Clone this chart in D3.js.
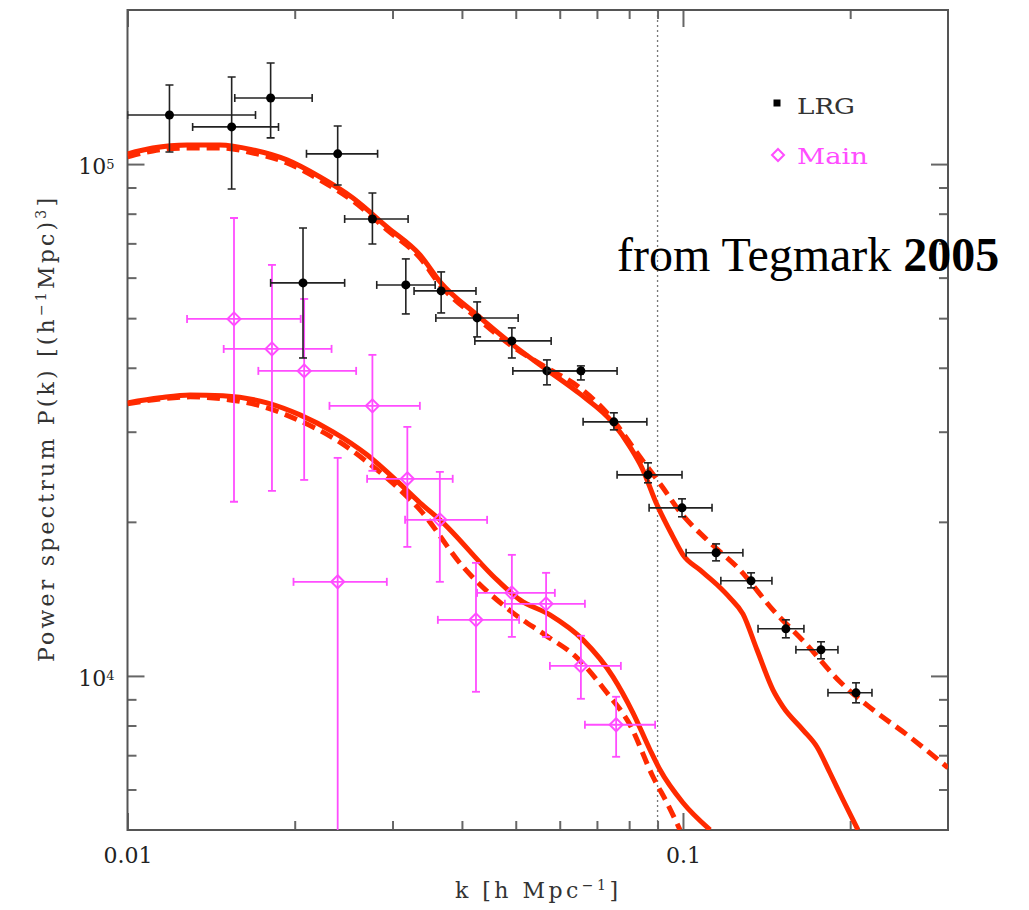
<!DOCTYPE html>
<html>
<head>
<meta charset="utf-8">
<script src="https://cdn.jsdelivr.net/npm/d3@7"></script>
<style>
  body { margin: 0; background: #fff; }
  svg { display: block; }
</style>
</head>
<body>
<svg id="chart" width="1029" height="910"></svg>
<script>
// ---- LRG band powers: k [h/Mpc], P(k) and error-bar extents ----
const lrgK   = [0.0119, 0.0154, 0.0181, 0.0239, 0.0276, 0.0207, 0.0317, 0.0367, 0.0426, 0.0492, 0.0569, 0.0655, 0.0751, 0.0865, 0.0996, 0.1147, 0.1326, 0.1532, 0.1772, 0.2049];
const lrgP   = [124700, 118200, 134600, 104700, 78100, 58600, 58060, 56520, 50050, 45140, 39440, 39440, 31360, 24710, 21300, 17400, 15340, 12360, 11250, 9268];
const lrgKLo = [0.0100, 0.0131, 0.0156, 0.0210, 0.0246, 0.0181, 0.0281, 0.0328, 0.0359, 0.0422, 0.0494, 0.0569, 0.0661, 0.0761, 0.0869, 0.1013, 0.1170, 0.1365, 0.1597, 0.1824];
const lrgKHi = [0.0170, 0.0187, 0.0215, 0.0282, 0.0320, 0.0246, 0.0358, 0.0424, 0.0505, 0.0579, 0.0661, 0.0761, 0.0861, 0.0996, 0.1128, 0.1282, 0.1446, 0.1651, 0.1901, 0.2189];
const lrgPHi = [142700, 148000, 157600, 118700, 87800, 75000, 65270, 61560, 53790, 47860, 41440, 40340, 32660, 26080, 22180, 18110, 15900, 12870, 11660, 9694];
const lrgPLo = [105600, 89400, 112500, 91000, 69800, 41800, 50960, 51190, 45960, 41800, 37040, 37870, 30250, 23840, 20460, 16780, 14860, 11870, 10800, 8860];

// ---- Main-sample band powers ----
const mainK   = [0.01555, 0.0182, 0.0208, 0.0276, 0.0239, 0.0319, 0.0365, 0.0492, 0.0567, 0.0424, 0.0655, 0.0758];
const mainP   = [49830, 43540, 39440, 33700, 15270, 24270, 20180, 14530, 13830, 12870, 10460, 8027];
const mainKLo = [0.0128, 0.0149, 0.0172, 0.0231, 0.0199, 0.0270, 0.0316, 0.0426, 0.0478, 0.0362, 0.0576, 0.0666];
const mainKHi = [0.0205, 0.0233, 0.0258, 0.0336, 0.0293, 0.0385, 0.0444, 0.0588, 0.0666, 0.0507, 0.0773, 0.0891];
const mainPHi = [78460, 63530, 54510, 42390, 26670, 30660, 25040, 17240, 15900, 16630, 11980, 9105];
const mainPLo = [21890, 22990, 24150, 25160, 1000, 17870, 15270, 11920, 11920, 9311, 9022, 6950];

// ---- Model curves ----
const lrgSolidK = [0.0100, 0.0111, 0.0128, 0.01467, 0.01682, 0.01937, 0.02221, 0.02546, 0.02932, 0.03362, 0.03667, 0.04257, 0.04943, 0.05691, 0.06525, 0.07482, 0.08028, 0.08437, 0.0898, 0.09555, 0.1000, 0.1073, 0.1152, 0.1215, 0.1282, 0.1359, 0.1452, 0.1514, 0.1644, 0.1742, 0.1839, 0.1941, 0.2065];
const lrgSolidP = [104700, 107500, 109000, 109000, 106600, 101900, 94360, 85860, 75390, 66450, 58600, 50730, 44340, 39620, 35560, 31220, 28030, 25500, 21590, 18860, 17240, 16110, 15070, 14210, 13220, 11250, 9395, 8703, 7848, 7271, 6469, 5728, 5004];
const lrgDashK  = [0.0100, 0.0111, 0.0128, 0.01467, 0.01682, 0.01937, 0.02221, 0.02546, 0.02932, 0.03362, 0.03667, 0.04257, 0.04943, 0.05691, 0.06525, 0.07482, 0.08264, 0.09204, 0.09877, 0.1105, 0.1266, 0.1452, 0.1672, 0.1917, 0.2198, 0.2531, 0.300];
const lrgDashP  = [103300, 106100, 107500, 107500, 105100, 100500, 93110, 84720, 74380, 65560, 57810, 50050, 43950, 39980, 36540, 31640, 27280, 23310, 20920, 18440, 16110, 13460, 11500, 9739, 8586, 7674, 6615];
const mainSolidK = [0.0100, 0.01144, 0.01296, 0.01485, 0.01783, 0.02044, 0.02344, 0.02699, 0.03094, 0.03362, 0.03652, 0.04627, 0.05088, 0.05762, 0.06607, 0.07482, 0.08128, 0.08721, 0.09091, 0.1000, 0.1119];
const mainSolidP = [34160, 34940, 35400, 35250, 34160, 32360, 29980, 27040, 23730, 21790, 20180, 15400, 14080, 13160, 11760, 9961, 8472, 7175, 6555, 5652, 5004];
const mainDashK  = [0.0100, 0.01144, 0.01296, 0.01485, 0.01783, 0.02044, 0.02344, 0.02699, 0.03094, 0.03362, 0.04018, 0.04943, 0.05644, 0.06445, 0.07298, 0.08028, 0.08831, 0.09397, 0.09877];
const mainDashP  = [34000, 34770, 35090, 34770, 33400, 31500, 29180, 26200, 23100, 21110, 16340, 13280, 12030, 10850, 9268, 8027, 6353, 5602, 5004];

// ---- Axis ticks ----
const xMajorTicks = [0.01, 0.1];
const xMinorTicks = [0.02, 0.03, 0.04, 0.05, 0.06, 0.07, 0.08, 0.09, 0.2];
const yMajorTicks = [1e4, 1e5];
const yMinorTicks = [6000, 7000, 8000, 9000, 2e4, 3e4, 4e4, 5e4, 6e4, 7e4, 8e4, 9e4];
const kCut = 0.09;

const legendNames = ["LRG", "Main"];

// ---- Layout ----
const L = 127.5, R = 948, T = 10, B = 830;
const RED = "#ff2a00", MAG = "#ff4dff", FONT = "DejaVu Serif, serif";

const x = d3.scaleLog().domain([0.01, 0.3]).range([L, R]);
const y = d3.scaleLog().domain([5000, 2e5]).range([B, T]);

const svg = d3.select("#chart");
svg.append("defs").append("clipPath").attr("id", "plotArea")
  .append("rect").attr("x", L).attr("y", T).attr("width", R - L).attr("height", B - T);

// vertical marker of the fitting cutoff
svg.append("line")
  .attr("x1", x(kCut)).attr("x2", x(kCut)).attr("y1", T).attr("y2", B)
  .attr("stroke", "#777").attr("stroke-width", 1.3).attr("stroke-dasharray", "2,3");

// ---- Axes (ticks point inward) ----
function styleAxis(g) {
  g.select(".domain").remove();
  g.selectAll(".tick line").attr("stroke", "#666").attr("stroke-width", 2);
  g.selectAll(".tick text").attr("font-family", FONT).attr("font-size", 22).attr("fill", "#222");
}
const MAJ = 17, MIN = 9;
svg.append("g").attr("transform", `translate(0,${B})`)
  .call(d3.axisBottom(x).tickValues(xMajorTicks).tickSize(-MAJ).tickPadding(17).tickFormat(d3.format("~g")))
  .call(styleAxis);
svg.append("g").attr("transform", `translate(0,${B})`)
  .call(d3.axisBottom(x).tickValues(xMinorTicks).tickSize(-MIN).tickFormat(""))
  .call(styleAxis);
svg.append("g").attr("transform", `translate(0,${T})`)
  .call(d3.axisTop(x).tickValues(xMajorTicks).tickSize(-MAJ).tickFormat(""))
  .call(styleAxis);
svg.append("g").attr("transform", `translate(0,${T})`)
  .call(d3.axisTop(x).tickValues(xMinorTicks).tickSize(-MIN).tickFormat(""))
  .call(styleAxis);

const leftMajor = svg.append("g").attr("transform", `translate(${L},0)`)
  .call(d3.axisLeft(y).tickValues(yMajorTicks).tickSize(-MAJ).tickPadding(13))
  .call(styleAxis);
leftMajor.selectAll(".tick text").attr("dy", "0.45em").text(null).each(function (d) {
  const t = d3.select(this);
  t.append("tspan").text("10");
  t.append("tspan").attr("dy", "-0.45em").attr("font-size", 13).text(Math.round(Math.log10(d)));
});
svg.append("g").attr("transform", `translate(${L},0)`)
  .call(d3.axisLeft(y).tickValues(yMinorTicks).tickSize(-MIN).tickFormat(""))
  .call(styleAxis);
svg.append("g").attr("transform", `translate(${R},0)`)
  .call(d3.axisRight(y).tickValues(yMajorTicks).tickSize(-MAJ).tickFormat(""))
  .call(styleAxis);
svg.append("g").attr("transform", `translate(${R},0)`)
  .call(d3.axisRight(y).tickValues(yMinorTicks).tickSize(-MIN).tickFormat(""))
  .call(styleAxis);

// frame
svg.append("rect").attr("x", L).attr("y", T).attr("width", R - L).attr("height", B - T)
  .attr("fill", "none").attr("stroke", "#555").attr("stroke-width", 2);

// ---- Model curves ----
const curveLayer = svg.append("g").attr("clip-path", "url(#plotArea)");
const line = d3.line().x(d => x(d[0])).y(d => y(d[1])).curve(d3.curveMonotoneX);
function drawCurve(ks, ps, dashed) {
  curveLayer.append("path")
    .datum(d3.zip(ks, ps))
    .attr("d", line)
    .attr("fill", "none")
    .attr("stroke", RED)
    .attr("stroke-width", 5)
    .attr("stroke-linecap", "butt")
    .attr("stroke-dasharray", dashed ? "13,7" : null);
}
drawCurve(mainDashK, mainDashP, true);
drawCurve(lrgDashK, lrgDashP, true);
drawCurve(mainSolidK, mainSolidP, false);
drawCurve(lrgSolidK, lrgSolidP, false);

// ---- Data points with error bars ----
function drawSeries(ks, ps, kLo, kHi, pLo, pHi, color, width, marker) {
  const g = svg.append("g").attr("clip-path", "url(#plotArea)");
  const rows = ks.map((k, i) => ({ k, p: ps[i], kLo: kLo[i], kHi: kHi[i], pLo: pLo[i], pHi: pHi[i] }));
  const cap = 4;
  const pt = g.selectAll("g").data(rows).join("g")
    .attr("stroke", color).attr("stroke-width", width);
  pt.append("line").attr("x1", d => x(d.kLo)).attr("x2", d => x(d.kHi)).attr("y1", d => y(d.p)).attr("y2", d => y(d.p));
  pt.append("line").attr("x1", d => x(d.k)).attr("x2", d => x(d.k)).attr("y1", d => y(d.pHi)).attr("y2", d => y(d.pLo));
  pt.append("line").attr("x1", d => x(d.kLo)).attr("x2", d => x(d.kLo)).attr("y1", d => y(d.p) - cap).attr("y2", d => y(d.p) + cap);
  pt.append("line").attr("x1", d => x(d.kHi)).attr("x2", d => x(d.kHi)).attr("y1", d => y(d.p) - cap).attr("y2", d => y(d.p) + cap);
  pt.append("line").attr("x1", d => x(d.k) - cap).attr("x2", d => x(d.k) + cap).attr("y1", d => y(d.pHi)).attr("y2", d => y(d.pHi));
  pt.append("line").attr("x1", d => x(d.k) - cap).attr("x2", d => x(d.k) + cap).attr("y1", d => y(d.pLo)).attr("y2", d => y(d.pLo));
  if (marker === "dot") {
    pt.append("circle").attr("cx", d => x(d.k)).attr("cy", d => y(d.p)).attr("r", 4.5)
      .attr("fill", "#000").attr("stroke", "none");
  } else {
    pt.append("path").attr("transform", d => `translate(${x(d.k)},${y(d.p)})`)
      .attr("d", "M0,-6.5L6.5,0L0,6.5L-6.5,0Z").attr("fill", "none").attr("stroke-width", 2);
  }
}
drawSeries(mainK, mainP, mainKLo, mainKHi, mainPLo, mainPHi, MAG, 1.8, "diamond");
drawSeries(lrgK, lrgP, lrgKLo, lrgKHi, lrgPLo, lrgPHi, "#222", 1.6, "dot");

// ---- Legend ----
svg.append("rect").attr("x", 773.5).attr("y", 99.5).attr("width", 7).attr("height", 7).attr("fill", "#000");
svg.append("text").attr("x", 797).attr("y", 114).attr("font-family", FONT).attr("font-size", 22)
  .attr("fill", "#333").attr("textLength", 58).attr("lengthAdjust", "spacingAndGlyphs").text(legendNames[0]);
svg.append("path").attr("transform", "translate(778,155)").attr("d", "M0,-6L6,0L0,6L-6,0Z")
  .attr("fill", "none").attr("stroke", MAG).attr("stroke-width", 2);
svg.append("text").attr("x", 797).attr("y", 164).attr("font-family", FONT).attr("font-size", 22)
  .attr("fill", MAG).attr("textLength", 71).attr("lengthAdjust", "spacingAndGlyphs").text(legendNames[1]);

// ---- Axis titles ----
const xt = svg.append("text").attr("x", 455).attr("y", 898).attr("font-family", FONT).attr("font-size", 22)
  .attr("fill", "#333").attr("textLength", 163).attr("lengthAdjust", "spacing");
xt.append("tspan").text("k  [h  Mpc");
xt.append("tspan").attr("dy", -8).attr("font-size", 14).text("−1");
xt.append("tspan").attr("dy", 8).text("]");

const yt = svg.append("text").attr("transform", "translate(54,662) rotate(-90)")
  .attr("font-family", FONT).attr("font-size", 22).attr("fill", "#333")
  .attr("textLength", 464).attr("lengthAdjust", "spacing");
yt.append("tspan").text("Power spectrum P(k) [(h");
yt.append("tspan").attr("dy", -8).attr("font-size", 14).text("−1");
yt.append("tspan").attr("dy", 8).text("Mpc)");
yt.append("tspan").attr("dy", -8).attr("font-size", 14).text("3");
yt.append("tspan").attr("dy", 8).text("]");

// ---- Source note ----
const note = svg.append("text").attr("x", 617).attr("y", 271)
  .attr("font-family", "Liberation Serif, Times New Roman, serif").attr("font-size", 48).attr("fill", "#000");
note.append("tspan").text("from Tegmark ");
note.append("tspan").attr("font-weight", "bold").text("2005");
</script>
</body>
</html>
